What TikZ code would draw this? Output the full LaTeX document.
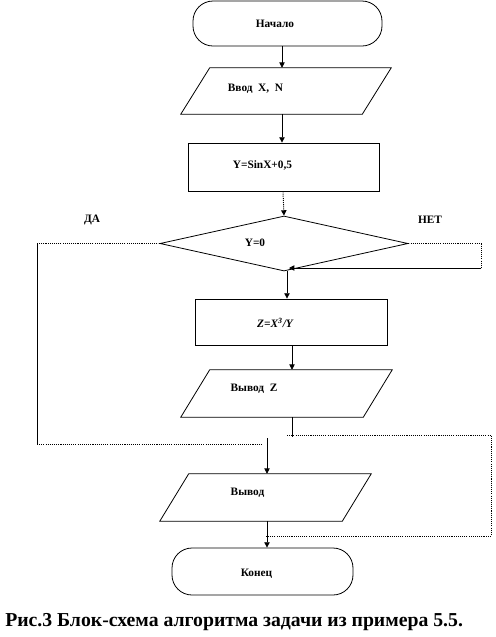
\documentclass[tikz,border=0pt]{standalone}
\usepackage{fontspec}
\setmainfont{Liberation Serif}
\newfontfamily\tnr{Liberation Serif}
\usetikzlibrary{arrows.meta,shapes.geometric,shapes.misc}
\tikzset{
  px/.style={x=0.75pt,y=-0.75pt},
  shp/.style={draw,line width=0.6pt,inner sep=0pt},
  term/.style={shp,rectangle,rounded corners=15pt,minimum width=#1},
  term/.default=141pt,
  procbox/.style={shp,rectangle},
  iobox/.style={rectangle,inner sep=0pt},
  decbox/.style={shp,diamond},
  lbl/.style={font=\tnr\bfseries\fontsize{8.5}{10}\selectfont,inner sep=0pt},
  ln/.style={line width=0.6pt},
  dln/.style={line width=0.7pt,dash pattern=on 0.8pt off 0.8pt},
  arr/.style={-{Triangle[length=4pt,width=4pt]}}
}
\newcommand{\parallelo}[1]{%
  \draw[ln] ([xshift=29*0.75pt]#1.north west) -- (#1.north east) -- ([xshift=-29*0.75pt]#1.south east) -- (#1.south west) -- cycle;}
\begin{document}
\begin{tikzpicture}[px]
\useasboundingbox (0,0) rectangle (496,637);
% columns
\coordinate (c282) at (282,0);
\coordinate (c283) at (283,0);
\coordinate (c287) at (287,0);
\coordinate (c292) at (292,0);
\coordinate (c267) at (267,0);
% shapes
\node[term=189*0.75pt,minimum height=45*0.75pt] (start) at (287.5,23.5) {};
\node[iobox,minimum width=210*0.75pt,minimum height=46*0.75pt] (in) at (286,91) {};
\parallelo{in}
\node[procbox,minimum width=191*0.75pt,minimum height=48*0.75pt] (calc) at (283.5,167) {};
\node[decbox,minimum width=248*0.75pt,minimum height=55*0.75pt] (dec) at (284,243.5) {};
\node[procbox,minimum width=192*0.75pt,minimum height=46*0.75pt] (zcalc) at (291,322) {};
\node[iobox,minimum width=211*0.75pt,minimum height=47*0.75pt] (outz) at (286.5,393.5) {};
\parallelo{outz}
\node[iobox,minimum width=211*0.75pt,minimum height=47*0.75pt] (out) at (265.5,497.5) {};
\parallelo{out}
\node[term=181*0.75pt,minimum height=47*0.75pt] (end) at (262.5,571.5) {};
% texts
\node[lbl] (tstart) at (275,24) {Начало};
\node[lbl] (tin) at (255.5,89) {Ввод \ X, \ N};
\node[lbl] (tcalc) at (262.5,165) {Y=SinX+0,5};
\node[lbl] (tdec) at (255,243) {Y=0};
\node[lbl] (tda) at (92,220) {ДА};
\node[lbl] (tnet) at (430,220) {НЕТ};
\node[lbl] (tz) at (275.5,323) {\textit{Z=X\textsuperscript{3}/Y}};
\node[lbl] (toutz) at (254,389) {Вывод \ Z};
\node[lbl] (tout) at (247.5,493) {Вывод};
\node[lbl] (tend) at (256.5,574) {Конец};
\node[font=\tnr\bfseries\fontsize{14.8}{16}\selectfont,inner sep=0pt,anchor=west] (cap) at (5,622) {Рис.3 Блок-схема алгоритма задачи из примера 5.5.};
% free ends
\coordinate (da1) at (37,243.5);
\coordinate (da2) at (37,444);
\coordinate (da3) at (263,444);
\coordinate (net1) at (481,243.5);
\coordinate (net2) at (481,268);
\coordinate (net3) at (289,268);
\coordinate (z1) at (292,437);
\coordinate (z2) at (287,435);
\coordinate (z3) at (491,435);
\coordinate (z4) at (491,536);
\coordinate (z5) at (265,536);
\coordinate (m1) at (267,438);
% connectors
\draw[ln,arr] (start.south -| c282) -- (in.north -| c282);
\draw[ln,arr] (in.south -| c282) -- (calc.north -| c282);
\draw[dln,arr] (calc.south -| c283) -- (dec.north);
\draw[dln] (dec.west) -- (da1);
\draw[ln] (da1) -- (da2);
\draw[dln] (da2) -- (da3);
\draw[dln] (dec.east) -- (net1) -- (net2);
\draw[ln,arr] (net2) -- (net3);
\draw[ln,arr] (dec.south -| c287) -- (zcalc.north -| c287);
\draw[ln,arr] (zcalc.south -| c292) -- (outz.north -| c292);
\draw[ln] (outz.south -| c292) -- (z1);
\draw[dln] (z2) -- (z3) -- (z4) -- (z5);
\draw[ln,arr] (m1) -- (out.north -| c267);
\draw[ln,arr] (out.south -| c267) -- (end.north -| c267);
\end{tikzpicture}
\end{document}
